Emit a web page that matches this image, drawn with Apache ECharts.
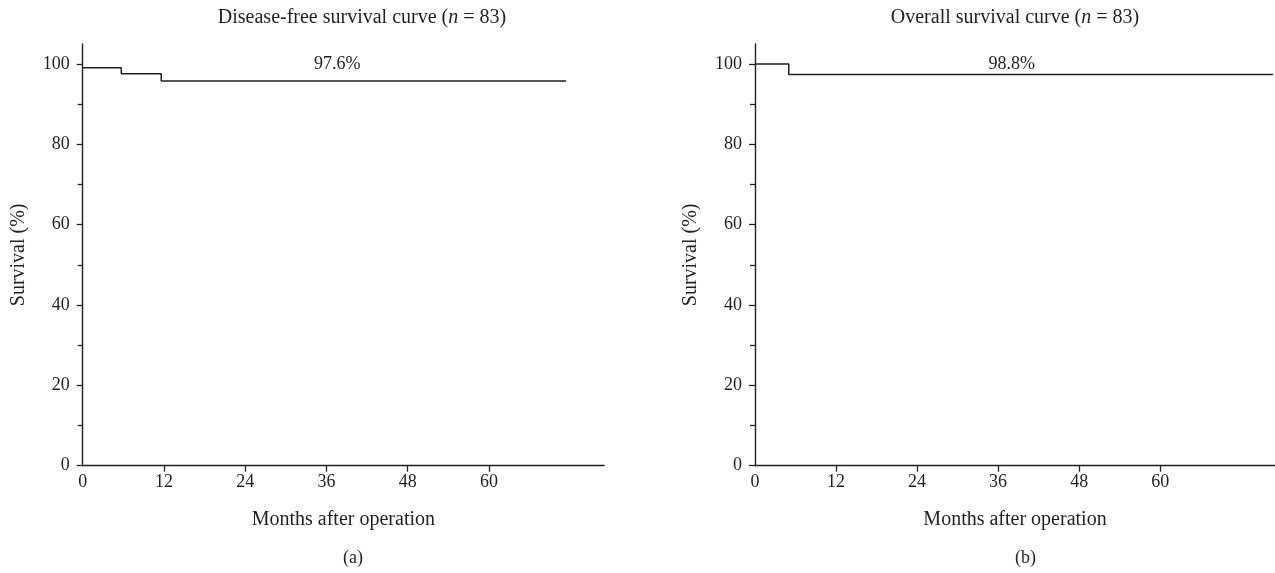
<!DOCTYPE html>
<html>
<head>
<meta charset="utf-8">
<script src="https://cdn.jsdelivr.net/npm/echarts@6/dist/echarts.min.js"></script>
<style>html,body{margin:0;padding:0;background:#fff;}#c{width:1275px;height:573px;}</style>
</head>
<body>
<div id="c"></div>
<script>
// Disease-free survival (a)
const dfsMonths = [0, 5.7, 11.6, 71.4];
const dfsSurvival = [99.1, 97.6, 95.8, 95.8];
// Overall survival (b)
const osMonths = [0, 5.0, 76.7];
const osSurvival = [100, 97.4, 97.4];
// annotations
const dfsNote = {text: '97.6%', month: 37.6, value: 99.9};
const osNote = {text: '98.8%', month: 38.0, value: 99.9};
// ticks
const xTickLabels = [0, 12, 24, 36, 48, 60];
const xTicks = [12, 24, 36, 48, 60];
const yMajor = [0, 20, 40, 60, 80, 100];
const yMinor = [10, 30, 50, 70, 90];

const FONT = 'Liberation Serif';
const INK = '#231f20';
const NUM = 18, TXT = 20;

function pairs(xs, ys){ return xs.map((x,i)=>[x, ys[i]]); }

function xAxisFor(gi){
  return {
    type:'value', gridIndex:gi, min:0, max:77,
    name:'Months after operation', nameLocation:'middle', nameGap:44,
    nameTextStyle:{fontFamily:FONT, fontSize:TXT, color:INK},
    axisLine:{show:true, onZero:false, lineStyle:{color:INK, width:1.4}},
    axisTick:{show:true, length:6, customValues:xTicks, lineStyle:{color:INK, width:1.3}},
    axisLabel:{show:true, customValues:xTickLabels, margin:8, fontFamily:FONT, fontSize:NUM, color:INK},
    splitLine:{show:false}
  };
}
function yAxisMain(gi){
  return {
    type:'value', gridIndex:gi, min:0, max:105, position:'left',
    name:'Survival (%)', nameLocation:'middle', nameGap:54,
    nameTextStyle:{fontFamily:FONT, fontSize:TXT, color:INK},
    axisLine:{show:true, onZero:false, lineStyle:{color:INK, width:1.4}},
    axisTick:{show:true, length:6, customValues:yMajor, lineStyle:{color:INK, width:1.3}},
    axisLabel:{show:true, customValues:yMajor, margin:13, fontFamily:FONT, fontSize:NUM, color:INK},
    splitLine:{show:false}
  };
}
function yAxisMinor(gi){
  return {
    type:'value', gridIndex:gi, min:0, max:105, position:'left', offset:0,
    axisLine:{show:false},
    axisTick:{show:true, length:5, customValues:yMinor, lineStyle:{color:INK, width:1.3}},
    axisLabel:{show:false},
    splitLine:{show:false}
  };
}
function curve(xi, yi, data, note){
  return {
    type:'line', xAxisIndex:xi, yAxisIndex:yi, step:'end', data:data,
    symbol:'none', silent:true,
    lineStyle:{color:INK, width:1.5},
    markPoint:{
      symbol:'circle', symbolSize:0, silent:true,
      label:{show:true, position:'inside', formatter:note.text, fontFamily:FONT, fontSize:NUM, color:INK},
      data:[{coord:[note.month, note.value]}]
    }
  };
}
function titleFor(cx, label){
  return {
    text:'{r|'+label+' (}{i|n}{r| = 83)}', left:cx, top:3, textAlign:'center',
    textStyle:{fontWeight:'normal', rich:{
      r:{fontFamily:FONT, fontSize:TXT, fontWeight:'normal', color:INK},
      i:{fontFamily:FONT, fontSize:TXT, fontWeight:'normal', fontStyle:'italic', color:INK}
    }}
  };
}

const chart = echarts.init(document.getElementById('c'), null, {renderer:'canvas'});
chart.setOption({
  animation:false,
  backgroundColor:'#fff',
  title:[titleFor(357, 'Disease-free survival curve'), titleFor(1010, 'Overall survival curve')],
  grid:[
    {left:82.7, right:671, top:44, bottom:107.3, containLabel:false},
    {left:755, right:0, top:44, bottom:107.3, containLabel:false}
  ],
  xAxis:[xAxisFor(0), xAxisFor(1)],
  yAxis:[yAxisMain(0), yAxisMinor(0), yAxisMain(1), yAxisMinor(1)],
  series:[
    curve(0, 0, pairs(dfsMonths, dfsSurvival), dfsNote),
    curve(1, 2, pairs(osMonths, osSurvival), osNote)
  ],
  graphic:[
    {type:'text', left:343, top:549, style:{text:'(a)', fontFamily:FONT, fontSize:NUM, fill:INK, textAlign:'center'}},
    {type:'text', left:1015, top:549, style:{text:'(b)', fontFamily:FONT, fontSize:NUM, fill:INK, textAlign:'center'}}
  ]
});
</script>
</body>
</html>
